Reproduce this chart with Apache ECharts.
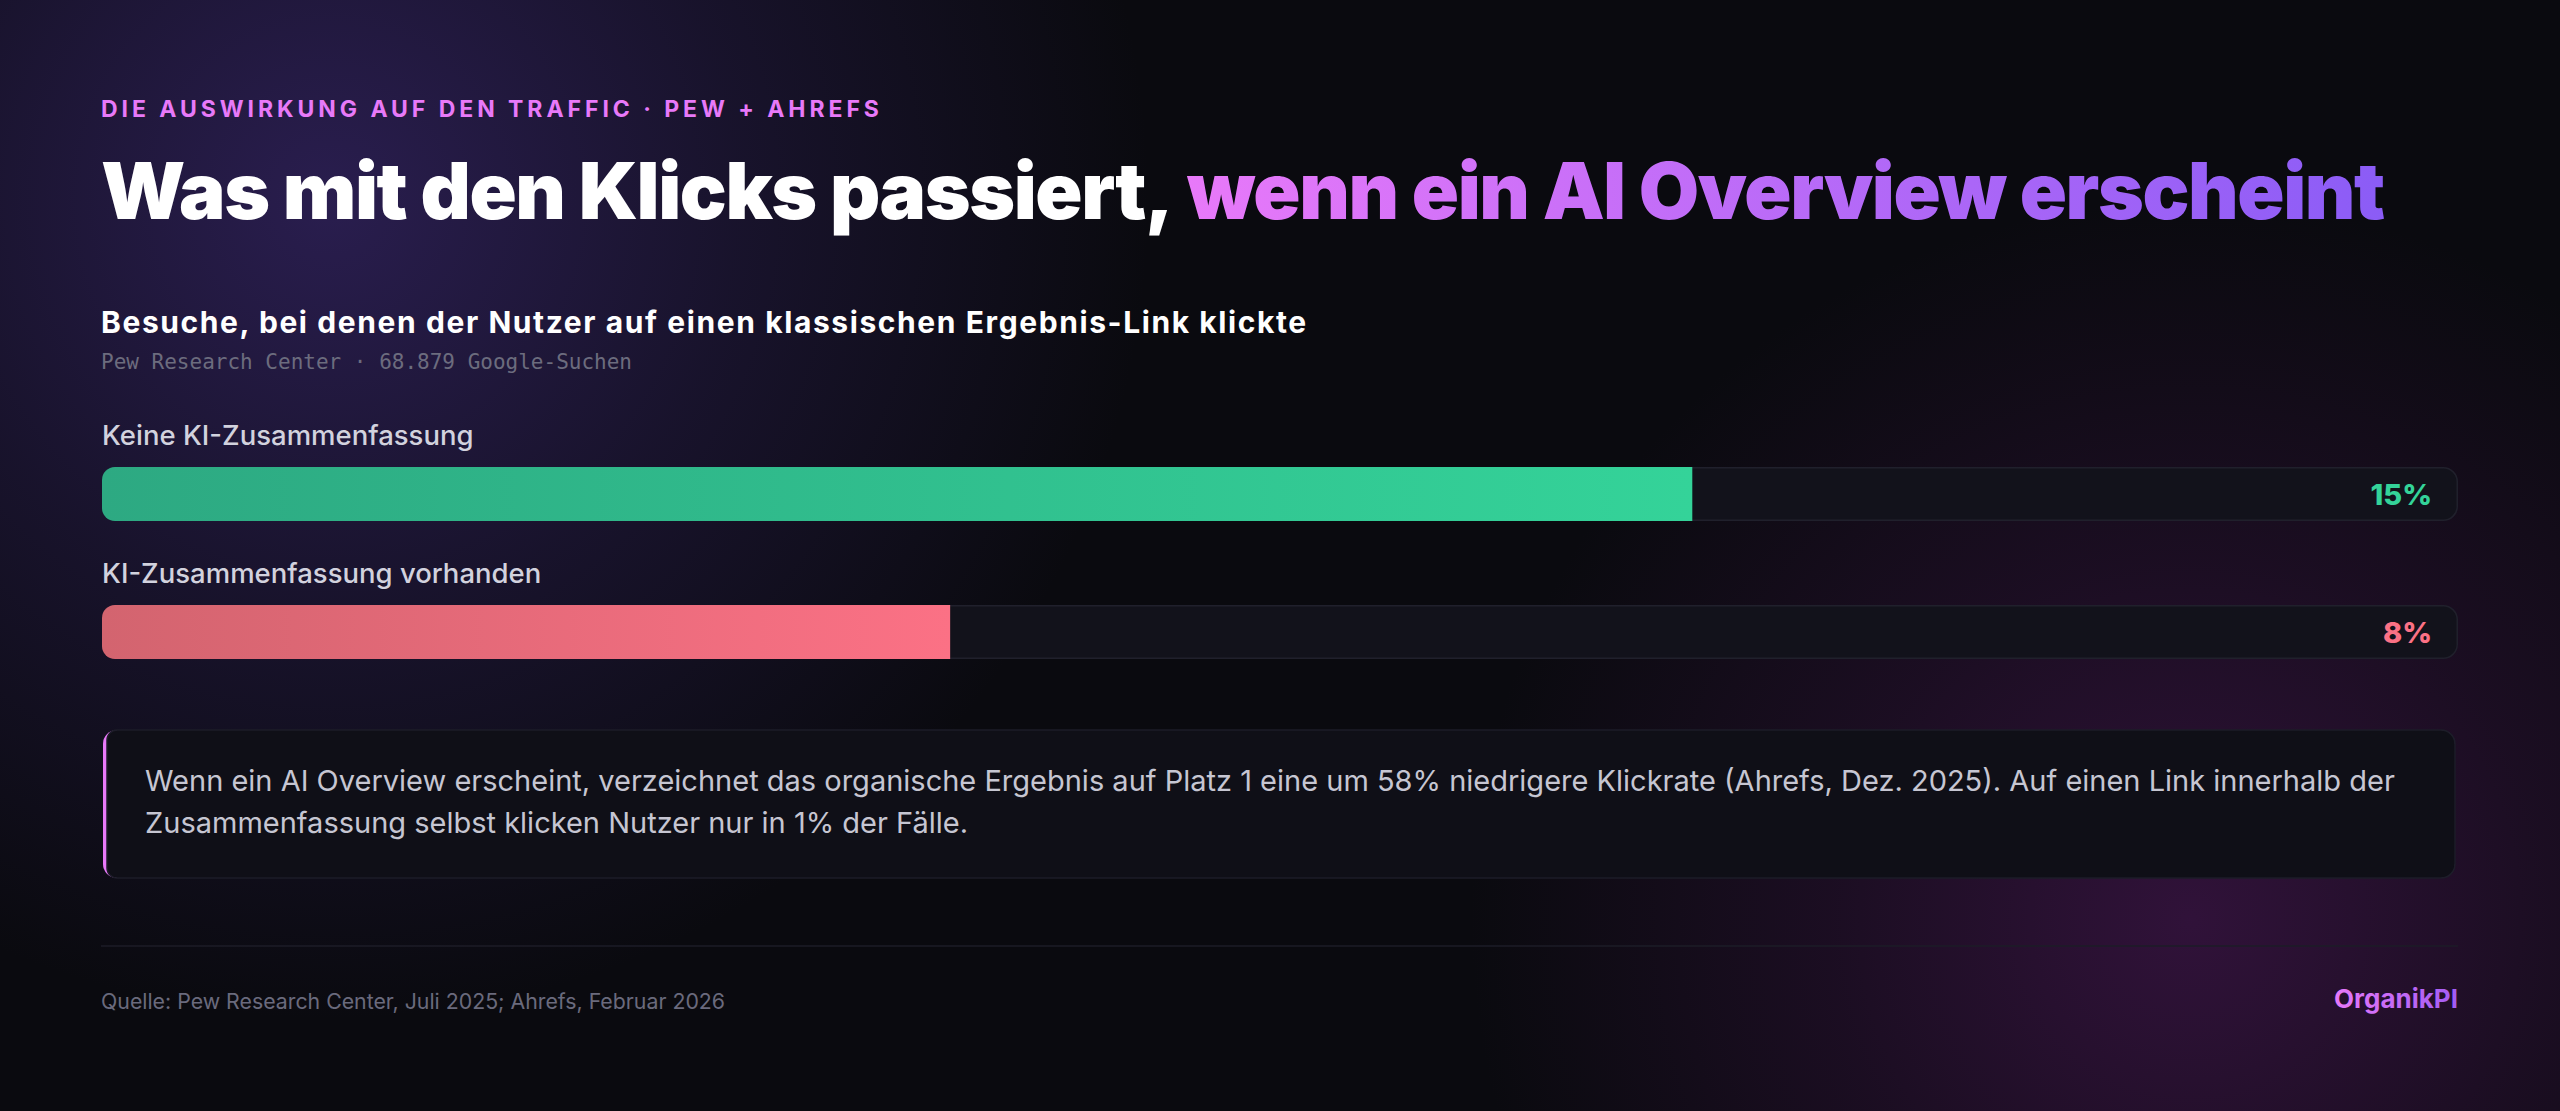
<!DOCTYPE html>
<html><head><meta charset="utf-8">
<script src="https://cdn.jsdelivr.net/npm/echarts@6/dist/echarts.min.js"></script>
<style>html,body{margin:0;padding:0;background:#0a0a0f;overflow:hidden}#c{width:2560px;height:1111px}#defs{position:absolute;width:0;height:0;left:0;top:0}</style>
</head><body>
<svg id="defs" aria-hidden="true"><defs>
<linearGradient id="gradTitleFill" x1="0" y1="0" x2="1" y2="0"><stop offset="0" stop-color="#e879f9"/><stop offset="1" stop-color="#8b5cf6"/></linearGradient>
<linearGradient id="gradBrandFill" x1="0" y1="0" x2="1" y2="0"><stop offset="0" stop-color="#e879f9"/><stop offset="1" stop-color="#a15cf3"/></linearGradient>
</defs></svg>
<div id="c"></div>
<script>
// ---- data ----
const eyebrow = 'DIE AUSWIRKUNG AUF DEN TRAFFIC · PEW + AHREFS';
const titleWhite = 'Was mit den Klicks passiert, ';
const titleAccent = 'wenn ein AI Overview erscheint';
const subtitle = 'Besuche, bei denen der Nutzer auf einen klassischen Ergebnis-Link klickte';
const meta = 'Pew Research Center · 68.879 Google-Suchen';
const categories = ['Keine KI-Zusammenfassung', 'KI-Zusammenfassung vorhanden'];
const values = [15, 8];
const unit = '%';
const calloutLines = [
  'Wenn ein AI Overview erscheint, verzeichnet das organische Ergebnis auf Platz 1 eine um 58% niedrigere Klickrate (Ahrefs, Dez. 2025). Auf einen Link innerhalb der',
  'Zusammenfassung selbst klicken Nutzer nur in 1% der Fälle.'
];
const source = 'Quelle: Pew Research Center, Juli 2025; Ahrefs, Februar 2026';
const brand = 'OrganikPI';

// ---- styling ----
const barColors = [['#2da982', '#34d399'], ['#d3646f', '#fb7185']];
const valueColors = ['#34d399', '#fb7185'];
const axisMax = 100 / 4.5;
const FF = 'Inter, "Noto Sans", sans-serif';

const mctx = document.createElement('canvas').getContext('2d');
function measure(str, font) { mctx.font = font; return mctx.measureText(str).width; }

// letter-spacing fitted to the reference text extents
const eyebrowFont = '700 23px Inter';
const eyebrowLS = (782 - measure(eyebrow, eyebrowFont)) / eyebrow.length;
const titleFontBase = '900 78px Inter';
const titleLS = (2283 - measure(titleWhite + titleAccent, titleFontBase)) / (titleWhite + titleAccent).length;
const accentX = 101 + measure(titleWhite, titleFontBase) + titleWhite.length * titleLS;
const subFont = '700 30px Inter';
const subLS = (1208 - measure(subtitle, subFont)) / subtitle.length;

const css = document.createElement('style');
css.textContent =
  'text[style*="lsEyebrow"]{letter-spacing:' + eyebrowLS.toFixed(2) + 'px}' +
  'text[style*="lsTitle"]{letter-spacing:' + titleLS.toFixed(2) + 'px}' +
  'text[style*="gradTitle"]{fill:url(#gradTitleFill) !important}' +
  'text[style*="gradBrand"]{fill:url(#gradBrandFill) !important}' +
  'text[style*="lsSub"]{letter-spacing:' + subLS.toFixed(2) + 'px}';
document.head.appendChild(css);

function lin(c1, c2) {
  return { type: 'linear', x: 0, y: 0, x2: 1, y2: 0, colorStops: [{ offset: 0, color: c1 }, { offset: 1, color: c2 }] };
}
function glow(cx, cy, r, rgb, a) {
  return {
    type: 'circle', silent: true, z: -100,
    shape: { cx: cx, cy: cy, r: r },
    style: { fill: { type: 'radial', x: 0.5, y: 0.5, r: 0.5, colorStops: [
      { offset: 0, color: 'rgba(' + rgb + ',' + a + ')' },
      { offset: 0.5, color: 'rgba(' + rgb + ',' + (a * 0.45) + ')' },
      { offset: 1, color: 'rgba(' + rgb + ',0)' }] } }
  };
}

const chart = echarts.init(document.getElementById('c'), null, { renderer: 'svg', width: 2560, height: 1111 });
chart.setOption({
  backgroundColor: '#0a0a0f',
  animation: false,
  grid: { left: 102, width: 2356, top: 425, height: 276 },
  xAxis: { type: 'value', min: 0, max: axisMax, show: false },
  yAxis: { type: 'category', data: categories, inverse: true, show: false },
  series: [
    {
      type: 'bar', silent: true, barWidth: 54, z: 1,
      data: categories.map((c, i) => ({ value: axisMax, label: { color: valueColors[i] } })),
      itemStyle: { color: '#12121b', borderColor: '#20202c', borderWidth: 1.5, borderRadius: 14 },
      label: {
        show: true, position: 'insideRight', distance: 26,
        formatter: p => values[p.dataIndex] + unit,
        fontFamily: FF, fontSize: 29, fontWeight: 800
      }
    },
    {
      type: 'bar', silent: true, barWidth: 54, barGap: '-100%', z: 2,
      data: values.map((v, i) => ({ value: v, itemStyle: { color: lin(barColors[i][0], barColors[i][1]) } })),
      itemStyle: { borderRadius: [13, 0, 0, 13] },
      label: {
        show: true, position: [0, -32], align: 'left', verticalAlign: 'middle',
        formatter: p => categories[p.dataIndex],
        color: '#d2d2de', fontFamily: FF, fontSize: 27.5, fontWeight: 500
      }
    }
  ],
  graphic: [
    glow(330, 200, 820, '52,36,100', 0.75),
    glow(2190, 920, 720, '58,20,68', 0.8),
    { type: 'text', silent: true, style: { text: eyebrow, x: 101, y: 108.5, font: '700 23px Inter, lsEyebrow', fill: '#e879f9', verticalAlign: 'middle' } },
    { type: 'text', silent: true, style: { text: titleWhite, x: 101, y: 190, font: '900 78px Inter, lsTitle', fill: '#ffffff', verticalAlign: 'middle' } },
    { type: 'text', silent: true, style: { text: titleAccent, x: accentX, y: 190, font: '900 78px Inter, lsTitle, gradTitle', fill: '#c06cf8', verticalAlign: 'middle' } },
    { type: 'text', silent: true, style: { text: subtitle, x: 101, y: 322, font: '700 30px Inter, lsSub', fill: '#ffffff', verticalAlign: 'middle' } },
    { type: 'text', silent: true, style: { text: meta, x: 101, y: 362, font: '400 21px "DejaVu Sans Mono", monospace', fill: '#6c6c7e', verticalAlign: 'middle' } },
    // callout box
    { type: 'rect', silent: true, shape: { x: 103, y: 730, width: 2352, height: 148, r: 14 }, style: { fill: '#e879f9' } },
    { type: 'rect', silent: true, shape: { x: 107, y: 730, width: 2348, height: 148, r: [10, 14, 14, 10] }, style: { fill: '#0f0f17', stroke: '#1d1d29', lineWidth: 1.5 } },
    { type: 'text', silent: true, style: { text: calloutLines.join('\n'), x: 145, y: 801, font: '400 29px ' + FF, lineHeight: 42, fill: '#c6c6d2', verticalAlign: 'middle' } },
    // footer
    { type: 'line', silent: true, shape: { x1: 101, y1: 946, x2: 2458, y2: 946 }, style: { stroke: '#1c1c27', lineWidth: 1.5 } },
    { type: 'text', silent: true, style: { text: source, x: 101, y: 1000.5, font: '400 21.3px ' + FF, fill: '#6a6a7d', verticalAlign: 'middle' } },
    { type: 'text', silent: true, style: { text: brand, x: 2458, y: 998, font: '700 26px Inter, gradBrand', fill: '#c46cf6', align: 'right', verticalAlign: 'middle' } }
  ]
});
</script>
</body></html>
